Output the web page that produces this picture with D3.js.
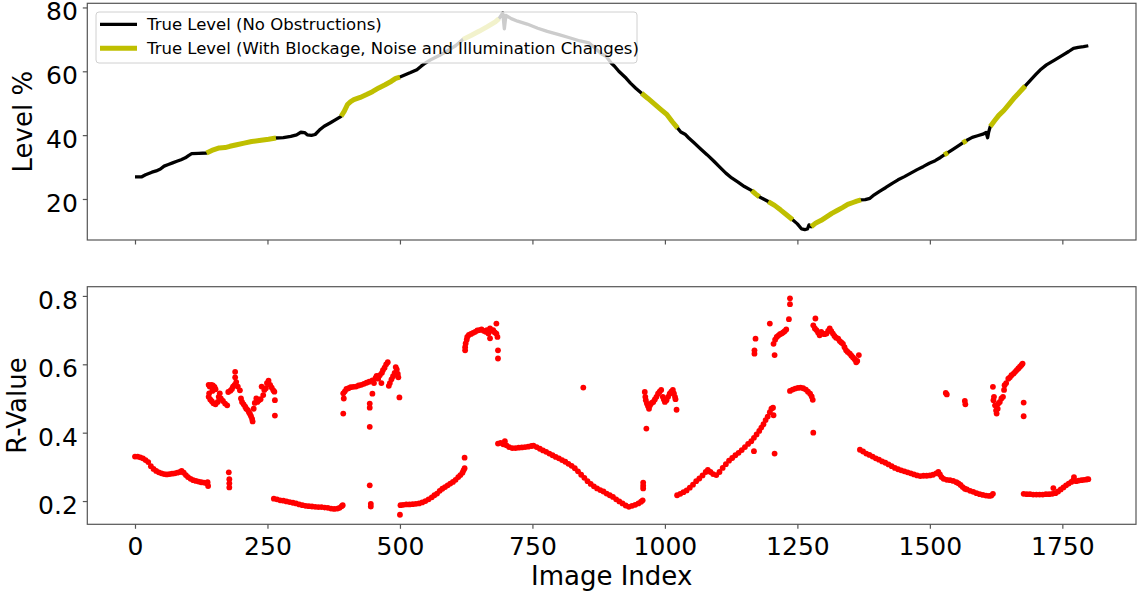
<!DOCTYPE html>
<html lang="en">
    <script src="https://d3js.org/d3.v7.min.js"></script>
    <head>
        <title>Level and R-Value</title>
    </head>
    <style>
        *{
            margin: 0px;
            padding: 0px;
        }
        body{
            background-color: white;
        }
        text{
            font-family: 'DejaVu Sans', sans-serif;
            fill: black;
        }
    </style>
    <body>
        <div class="chart"></div>
        <script>
            // ---------------- data ----------------
            const xTicks=[0,250,500,750,1000,1250,1500,1750];
            const levelTicks=[20,40,60,80];
            const rTicks=[0.2,0.4,0.6,0.8];

            // true level
            const levelIndex=[0,12,20,32,40,48,55,63,71,79,87,95,101,107,120,135,
                145,159,170,179,192,206,220,238,252,266,
                280,294,305,313,320,325,333,340,348,357,368,378,389,
                395,401,407,413,425,437,448,460,472,484,492,500,
                510,520,532,540,548,560,575,590,605,619,
                635,650,665,680,687,
                694,697,700,710,722,740,760,778,800,820,840,857,870,880,889,899,905,913,920,927,935,945,956,
                968,980,992,1004,1014,1024,
                1030,1038,1045,1055,1068,1080,1092,1104,1115,1126,1138,1150,1164,
                1171,1178,1186,1195,1207,1218,1230,1241,
                1250,1258,1264,1269,1272,1276,
                1285,1295,1305,1315,1325,1335,1345,1355,1362,1370,
                1378,1387,1395,1405,1417,1429,1440,1452,1464,1476,1488,1499,1510,1520,1527,
                1534,1545,1555,1562,1569,1580,1590,1600,1606,1609,1611,1614,
                1622,1630,1640,1650,1660,1670,1680,
                1690,1700,1708,1720,1736,1750,1762,1771,1780,1790,1799];
            const levelValue=[26.9,26.9,27.6,28.4,28.8,29.4,30.3,30.8,31.3,31.8,32.3,32.9,33.6,34.2,34.3,34.4,
                35.2,36.0,36.1,36.5,37.0,37.5,38.0,38.4,38.7,39.1,
                39.2,39.6,40.1,40.9,40.8,40.1,39.9,40.2,41.6,42.8,43.8,44.8,45.9,
                47.5,49.6,50.5,51.1,51.8,52.7,53.6,54.8,55.8,56.9,57.8,58.2,
                58.9,59.6,60.5,61.6,62.6,63.8,65.0,66.5,68.0,70.0,
                71.3,72.6,74.0,75.5,76.5,
                78.3,73.3,77.5,76.5,75.7,74.8,73.5,72.5,71.5,70.5,69.5,68.9,67.0,65.5,64.7,62.5,61.6,60.0,58.9,57.8,56.3,54.7,53.1,
                51.5,49.8,48.1,46.4,44.2,42.2,
                41.0,40.3,39.1,37.6,35.6,33.8,31.9,29.9,28.1,26.6,25.3,23.9,22.6,
                21.6,20.7,20.0,19.2,18.0,16.6,15.0,13.5,
                12.2,10.6,10.4,10.6,11.9,11.3,
                12.5,13.3,14.4,15.5,16.4,17.3,18.3,18.9,19.3,19.7,
                19.8,20.2,21.3,22.4,23.6,24.9,26.0,27.0,28.1,29.2,30.2,31.2,32.0,33.0,33.8,
                34.5,35.7,36.8,37.6,38.3,39.3,39.8,40.3,40.8,39.2,41.0,42.7,
                44.5,46.2,47.8,49.8,51.8,53.6,55.4,
                57.2,59.0,60.4,62.0,63.6,65.0,66.2,67.2,67.5,67.7,68.0];
            // image index ranges with blockage, noise and illumination changes
            const blockedRanges=[[135,266],[389,500],[619,687],[956,1024],[1164,1178],
                [1195,1241],[1276,1370],[1527,1534],[1562,1569],[1614,1680]];

            // R-value, [image index, r]
            const rLow1=[[0,.330],[5,.330],[10,.328],[15,.325],[20,.320],[25,.314],[30,.302],[35,.294],[40,.288],[45,.284],
                [50,.281],[55,.279],[60,.278],[65,.279],[70,.280],[75,.281],[80,.283],[85,.285],[88,.288],[92,.283],
                [96,.276],[100,.270],[105,.265],[110,.261],[115,.259],[120,.257],[125,.255],[130,.254],[135,.252],[137,.255],[138,.244],
                [177,.284],[178,.264],[178,.252],[178,.240]];
            const rHigh1=[[139,.540],[141,.535],[144,.540],[147,.538],[150,.534],[152,.527],[146,.522],[140,.515],[139,.505],[142,.497],
                [145,.492],[148,.486],[152,.483],[156,.490],[158,.505],[160,.515],[162,.500],[166,.493],[170,.485],[174,.480],
                [176,.519],[180,.523],[183,.528],[185,.535],[188,.540],[189,.562],[189,.578],[191,.548],[194,.535],[198,.524],
                [200,.500],[202,.490],[205,.483],[208,.476],[210,.470],[213,.466],[215,.460],[217,.455],[219,.448],[221,.440],
                [222,.433],[224,.470],[226,.487],[229,.500],[231,.490],[234,.495],[237,.498],[239,.535],[242,.510],[244,.525],
                [247,.530],[249,.545],[252,.552],[255,.540],[258,.532],[261,.524],[263,.520],[264,.495],[264,.450]];
            const rLow2=[[262,.207],[268,.205],[274,.202],[280,.201],[286,.199],[292,.197],[298,.195],[304,.193],[310,.190],
                [316,.188],[322,.186],[328,.185],[334,.184],[340,.183],[346,.182],[352,.182],[358,.181],[364,.180],[370,.178],
                [376,.177],[382,.178],[386,.180],[390,.185],[392,.188],
                [443,.246],[445,.192],[445,.184]];
            const rHigh2=[[393,.456],[443,.417],[443,.485],[443,.473],[448,.514],
                [393,.515],[394,.500],[396,.521],[399,.528],[403,.530],[407,.533],[412,.534],[417,.535],[422,.538],[427,.540],
                [432,.543],[437,.546],[442,.549],[448,.553],[451,.545],[454,.560],[456,.566],[459,.558],[462,.568],[465,.545],
                [466,.575],[468,.583],[471,.590],[474,.600],[477,.606],[479,.537],[481,.545],[484,.556],[487,.565],[490,.575],
                [492,.592],[494,.585],[496,.572],[497,.562],[499,.503]];
            const rLow3=[[500,.160],[501,.188],[506,.189],[512,.190],[518,.190],[524,.191],[530,.192],[536,.193],[542,.196],
                [548,.200],[554,.205],[560,.211],[565,.217],[570,.222],[575,.230],[580,.236],[585,.241],[590,.246],[595,.251],
                [600,.256],[605,.262],[610,.270],[614,.276],[618,.283],[620,.290],[622,.296],[622,.327]];
            const rHigh3=[[623,.641],[623,.650],[624,.661],[626,.672],[627,.680],[630,.686],[634,.689],[638,.692],[642,.695],
                [646,.699],[650,.700],[654,.702],[658,.698],[662,.695],[664,.700],[667,.690],[670,.676],[670,.705],[673,.698],
                [676,.700],[679,.693],[682,.719],[682,.690],[684,.680],[685,.641],[685,.617]];
            const rLow4=[[685,.368],[690,.370],[695,.366],[698,.375],[701,.363],[706,.358],[712,.355],[718,.355],[724,.356],
                [730,.357],[736,.358],[742,.359],[748,.361],[752,.362],[758,.358],[764,.353],[770,.348],[776,.344],[782,.339],
                [788,.334],[794,.329],[800,.325],[806,.320],[812,.315],[818,.309],[824,.303],[830,.296],[836,.287],[842,.277],
                [848,.268],[854,.258],[860,.250],[866,.243],[872,.237],[878,.232],[884,.228],[890,.222],[896,.217],[902,.212],
                [908,.205],[914,.199],[920,.193],[926,.187],[932,.183],[938,.186],[944,.189],[950,.193],[955,.198],[958,.202],
                [959,.237],[959,.245],[959,.254],[846,.532]];
            const rHigh4=[[962,.519],[963,.505],[964,.495],[966,.485],[968,.478],[970,.470],[972,.480],[975,.487],[978,.490],
                [981,.497],[984,.505],[987,.514],[990,.520],[993,.525],[996,.505],[998,.497],[1000,.490],[1003,.495],[1006,.505],
                [1009,.514],[1012,.520],[1015,.525],[1017,.515],[1019,.505],[1020,.498],[1022,.467],[965,.412]];
            const rLow5=[[1023,.217],[1029,.221],[1035,.226],[1041,.231],[1047,.239],[1053,.248],[1059,.258],[1065,.266],
                [1071,.275],[1077,.285],[1081,.291],[1086,.285],[1091,.279],[1097,.276],[1103,.285],[1109,.297],[1115,.308],
                [1121,.318],[1127,.326],[1133,.334],[1139,.341],[1145,.349],[1151,.358],[1157,.367],[1163,.375],[1168,.385],
                [1168,.346],[1173,.395],[1178,.405],[1182,.415],[1186,.425],[1190,.437],[1194,.447],[1198,.460],[1201,.470],
                [1204,.473],[1205,.451],[1207,.339]];
            const rHigh5=[[1169,.641],[1169,.631],[1171,.675],[1198,.719],[1207,.627],[1205,.660],[1208,.672],[1211,.680],
                [1214,.684],[1217,.688],[1220,.690],[1223,.693],[1226,.697],[1229,.702],[1234,.732],[1236,.776],[1236,.793],
                [1236,.522],[1241,.526],[1246,.529],[1251,.531],[1256,.532],[1261,.530],[1266,.526],[1270,.520],[1274,.514],
                [1277,.506],[1279,.496],[1280,.400]];
            const rHigh6=[[1280,.714],[1284,.734],[1283,.705],[1286,.700],[1289,.693],[1292,.685],[1295,.695],[1298,.690],
                [1301,.688],[1305,.690],[1308,.698],[1311,.705],[1314,.697],[1317,.690],[1320,.683],[1323,.678],[1327,.675],
                [1330,.668],[1333,.664],[1336,.660],[1339,.650],[1342,.641],[1345,.636],[1349,.631],[1352,.625],[1355,.620],
                [1358,.615],[1361,.606],[1363,.610],[1366,.627]];
            const rLow6=[[1368,.350],[1374,.345],[1380,.339],[1386,.335],[1392,.330],[1398,.325],[1404,.321],[1410,.316],
                [1416,.312],[1422,.307],[1428,.302],[1434,.297],[1440,.293],[1446,.290],[1452,.287],[1458,.284],[1464,.281],
                [1470,.278],[1476,.275],[1482,.273],[1488,.274],[1494,.274],[1500,.275],[1506,.277],[1512,.281],[1516,.285],
                [1519,.278],[1522,.270],[1526,.265],[1532,.262],[1538,.261],[1544,.259],[1550,.255],[1554,.252],[1558,.247],
                [1562,.241],[1566,.236],[1570,.234],[1576,.230],[1582,.227],[1588,.223],[1594,.220],[1600,.218],[1606,.216],
                [1612,.215],[1616,.216],[1619,.221],
                [1530,.516],[1532,.512],[1566,.493],[1567,.483]];
            const rHigh7=[[1619,.534],[1620,.495],[1621,.505],[1623,.480],[1625,.465],[1626,.456],[1628,.470],[1629,.485],
                [1632,.490],[1635,.500],[1638,.505],[1640,.525],[1641,.539],[1644,.545],[1648,.558],[1651,.562],[1654,.568],
                [1658,.573],[1661,.578],[1664,.583],[1667,.588],[1670,.593],[1673,.598],[1675,.602],[1677,.488],[1677,.448]];
            const rLow7=[[1677,.221],[1683,.220],[1689,.220],[1695,.219],[1701,.219],[1707,.219],[1713,.219],[1719,.220],
                [1725,.220],[1731,.221],[1733,.238],[1737,.223],[1742,.228],[1747,.234],[1752,.240],[1757,.246],[1762,.251],
                [1767,.256],[1771,.262],[1772,.270],[1776,.258],[1781,.260],[1786,.261],[1791,.262],[1796,.263],[1799,.264]];

            // ---------------- layout ----------------
            var width=1139;
            var height=596;
            var left=87.3, right=1136;
            var top1=3.3, bottom1=240;
            var top2=286.7, bottom2=524.3;

            const svg=d3
            .select('.chart')
            .append('svg')
            .attr('width',width)
            .attr('height',height)
            .style('background','white');

            var xScale=d3
            .scaleLinear()
            .domain([-90,1889])
            .range([left,right]);

            var yLevel=d3
            .scaleLinear()
            .domain([7.15,81.3])
            .range([bottom1,top1]);

            var yR=d3
            .scaleLinear()
            .domain([0.132,0.827])
            .range([bottom2,top2]);

            /*------------------- top: level -------------------*/
            var levelData=levelIndex.map((d,i)=>[d,levelValue[i]]);

            var line=d3.line()
            .x(d=>xScale(d[0]))
            .y(d=>yLevel(d[1]));

            svg.append('path')
            .datum(levelData)
            .attr('d',line)
            .attr('fill','none')
            .attr('stroke','black')
            .attr('stroke-width',3.3)
            .attr('stroke-linejoin','round');

            blockedRanges.forEach(r=>{
                var seg=levelData.filter(d=>d[0]>=r[0] && d[0]<=r[1]);
                svg.append('path')
                .datum(seg)
                .attr('d',line)
                .attr('fill','none')
                .attr('stroke','#bfbf00')
                .attr('stroke-width',5)
                .attr('stroke-linejoin','round');
            });

            var xAxisTop=d3.axisBottom(xScale).tickValues(xTicks).tickSize(4.5).tickFormat('');
            var gxTop=svg.append('g')
            .attr('transform','translate(0,'+bottom1+')')
            .call(xAxisTop);

            var yAxisTop=d3.axisLeft(yLevel).tickValues(levelTicks).tickSize(4.5).tickPadding(5);
            var gyTop=svg.append('g')
            .attr('transform','translate('+left+',0)')
            .call(yAxisTop);

            // legend (semi transparent box like matplotlib)
            var lg=svg.append('g');
            lg.append('rect')
            .attr('x',96).attr('y',12)
            .attr('width',541).attr('height',51)
            .attr('rx',3)
            .attr('fill','white')
            .attr('fill-opacity',0.8)
            .attr('stroke','#d0d0d0')
            .attr('stroke-width',1);
            var legendItems=[
                {label:'True Level (No Obstructions)',color:'black',w:3.3,y:24.3},
                {label:'True Level (With Blockage, Noise and Illumination Changes)',color:'#bfbf00',w:5,y:48.3}
            ];
            legendItems.forEach(it=>{
                lg.append('line')
                .attr('x1',100).attr('x2',137)
                .attr('y1',it.y).attr('y2',it.y)
                .attr('stroke',it.color)
                .attr('stroke-width',it.w);
                lg.append('text')
                .attr('x',147)
                .attr('y',it.y+6)
                .style('font-size','16.5px')
                .text(it.label);
            });

            svg.append('rect')
            .attr('x',left).attr('y',top1)
            .attr('width',right-left).attr('height',bottom1-top1)
            .attr('fill','none')
            .attr('stroke','#555')
            .attr('stroke-width',1.2);

            svg.append('text')
            .attr('transform','translate(23,'+((top1+bottom1)/2)+') rotate(-90)')
            .attr('text-anchor','middle')
            .attr('dominant-baseline','central')
            .style('font-size','26px')
            .text('Level %');

            /*------------------- bottom: R-value -------------------*/
            var rData=[].concat(rLow1,rHigh1,rLow2,rHigh2,rLow3,rHigh3,rLow4,rHigh4,
                rLow5,rHigh5,rHigh6,rLow6,rHigh7,rLow7);

            svg.append('g')
            .selectAll('circle')
            .data(rData)
            .enter()
            .append('circle')
            .attr('cx',d=>xScale(d[0]))
            .attr('cy',d=>yR(d[1]))
            .attr('r',2.9)
            .attr('fill','#ff0000');

            var xAxisBottom=d3.axisBottom(xScale).tickValues(xTicks).tickSize(4.5).tickPadding(8.5)
            .tickFormat(d3.format('d'));
            var gxBottom=svg.append('g')
            .attr('transform','translate(0,'+bottom2+')')
            .call(xAxisBottom);

            var yAxisBottom=d3.axisLeft(yR).tickValues(rTicks).tickSize(4.5).tickPadding(5)
            .tickFormat(d3.format('.1f'));
            var gyBottom=svg.append('g')
            .attr('transform','translate('+left+',0)')
            .call(yAxisBottom);

            svg.append('rect')
            .attr('x',left).attr('y',top2)
            .attr('width',right-left).attr('height',bottom2-top2)
            .attr('fill','none')
            .attr('stroke','#555')
            .attr('stroke-width',1.2);

            svg.append('text')
            .attr('transform','translate(17,'+((top2+bottom2)/2)+') rotate(-90)')
            .attr('text-anchor','middle')
            .attr('dominant-baseline','central')
            .style('font-size','26px')
            .text('R-Value');

            svg.append('text')
            .attr('x',(left+right)/2)
            .attr('y',585)
            .attr('text-anchor','middle')
            .style('font-size','26px')
            .text('Image Index');

            // axis styling
            [gxTop,gyTop,gxBottom,gyBottom].forEach(g=>{
                g.select('.domain').remove();
                g.selectAll('.tick line').attr('stroke','#555').attr('stroke-width',1.2);
                g.selectAll('.tick text')
                .style('font-size','25px')
                .style('font-family',"'DejaVu Sans', sans-serif")
                .attr('fill','black');
            });
            // matplotlib puts y tick labels a little below the tick
            [gyTop,gyBottom].forEach(g=>{
                g.selectAll('.tick text').attr('dy','0.5em');
            });
        </script>
    </body>
</html>
